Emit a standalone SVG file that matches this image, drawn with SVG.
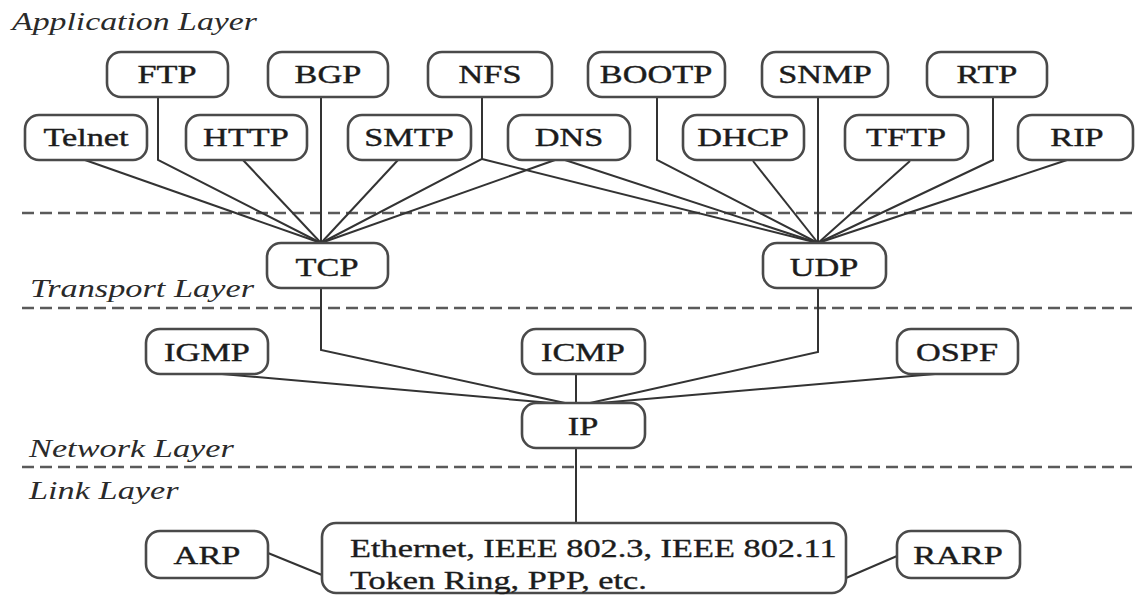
<svg xmlns="http://www.w3.org/2000/svg" width="1135" height="595" viewBox="0 0 1135 595" font-family="Liberation Serif, serif">
  <style>
    .box { fill: #ffffff; stroke: #4a4a4a; stroke-width: 2.6; }
    .lbl { font-size: 26px; fill: #1c1c1c; stroke: #1c1c1c; stroke-width: 0.4; text-anchor: middle; }
    .txt { font-size: 26px; fill: #1c1c1c; stroke: #1c1c1c; stroke-width: 0.35; }
    .layer { font-style: italic; font-size: 26px; fill: #2a2a2a; }
    .sep { stroke: #5a5a5a; stroke-width: 2.6; stroke-dasharray: 12 6; fill: none; }
    .wire { stroke: #333333; stroke-width: 2; fill: none; }
  </style>
  <rect width="1135" height="595" fill="#ffffff"/>

  <!-- layer separators and titles (type is set 1.32x wide) -->
  <g id="layers">
    <line class="sep" x1="22" y1="213" x2="1135" y2="213"/>
    <line class="sep" x1="22" y1="308" x2="1135" y2="308"/>
    <line class="sep" x1="22" y1="467" x2="1135" y2="467"/>
    <text class="layer" transform="translate(12 30) scale(1.3 1)">Application Layer</text>
    <text class="layer" transform="translate(30 297) scale(1.32 1)">Transport Layer</text>
    <text class="layer" transform="translate(29 457) scale(1.32 1)">Network Layer</text>
    <text class="layer" transform="translate(29 499) scale(1.32 1)">Link Layer</text>
  </g>

  <!-- connectors -->
  <g id="connectors">
    <polyline class="wire" points="85,160 321,243"/>
    <polyline class="wire" points="158,97 158,160 321,243"/>
    <polyline class="wire" points="243,160 321,243"/>
    <polyline class="wire" points="321,97 321,243"/>
    <polyline class="wire" points="398,160 321,243"/>
    <polyline class="wire" points="482,97 482,159 321,243"/>
    <polyline class="wire" points="482,159 818,243"/>
    <polyline class="wire" points="555,160 321,243"/>
    <polyline class="wire" points="565,160 818,243"/>
    <polyline class="wire" points="657,97 657,160 818,243"/>
    <polyline class="wire" points="753,161 818,243"/>
    <polyline class="wire" points="818,97 818,243"/>
    <polyline class="wire" points="910,161 818,243"/>
    <polyline class="wire" points="993,97 993,160 818,243"/>
    <polyline class="wire" points="1067,160 818,243"/>
    <polyline class="wire" points="321,288 321,350 565,403"/>
    <polyline class="wire" points="818,288 818,352 590,403"/>
    <polyline class="wire" points="222,374 552,403"/>
    <polyline class="wire" points="576,374 576,403"/>
    <polyline class="wire" points="935,374 600,403"/>
    <polyline class="wire" points="576,448 576,523"/>
    <polyline class="wire" points="268,553 322,575"/>
    <polyline class="wire" points="846,578 897,556"/>
  </g>

  <!-- application layer -->
  <g id="ftp"><rect class="box" x="107" y="52" width="121" height="45" rx="14"/><text class="lbl" transform="translate(167 83) scale(1.32 1)">FTP</text></g>
  <g id="bgp"><rect class="box" x="268" y="52" width="120" height="45" rx="14"/><text class="lbl" transform="translate(328 83) scale(1.32 1)">BGP</text></g>
  <g id="nfs"><rect class="box" x="428" y="52" width="124" height="45" rx="14"/><text class="lbl" transform="translate(490 83) scale(1.32 1)">NFS</text></g>
  <g id="bootp"><rect class="box" x="588" y="52" width="137" height="45" rx="14"/><text class="lbl" transform="translate(656 83) scale(1.32 1)">BOOTP</text></g>
  <g id="snmp"><rect class="box" x="762" y="52" width="126" height="45" rx="14"/><text class="lbl" transform="translate(825 83) scale(1.32 1)">SNMP</text></g>
  <g id="rtp"><rect class="box" x="927" y="52" width="120" height="45" rx="14"/><text class="lbl" transform="translate(987 83) scale(1.32 1)">RTP</text></g>

  <g id="telnet"><rect class="box" x="25" y="115" width="122" height="45" rx="14"/><text class="lbl" transform="translate(86 146) scale(1.32 1)">Telnet</text></g>
  <g id="http"><rect class="box" x="186" y="115" width="121" height="45" rx="14"/><text class="lbl" transform="translate(246 146) scale(1.32 1)">HTTP</text></g>
  <g id="smtp"><rect class="box" x="348" y="115" width="123" height="45" rx="14"/><text class="lbl" transform="translate(409 146) scale(1.32 1)">SMTP</text></g>
  <g id="dns"><rect class="box" x="508" y="115" width="122" height="45" rx="14"/><text class="lbl" transform="translate(569 146) scale(1.32 1)">DNS</text></g>
  <g id="dhcp"><rect class="box" x="683" y="115" width="121" height="45" rx="14"/><text class="lbl" transform="translate(743 146) scale(1.32 1)">DHCP</text></g>
  <g id="tftp"><rect class="box" x="845" y="115" width="123" height="45" rx="14"/><text class="lbl" transform="translate(906 146) scale(1.32 1)">TFTP</text></g>
  <g id="rip"><rect class="box" x="1018" y="115" width="115" height="45" rx="14"/><text class="lbl" transform="translate(1077 146) scale(1.32 1)">RIP</text></g>

  <!-- transport layer -->
  <g id="tcp"><rect class="box" x="267" y="243" width="121" height="45" rx="14"/><text class="lbl" transform="translate(327 276) scale(1.32 1)">TCP</text></g>
  <g id="udp"><rect class="box" x="763" y="243" width="123" height="45" rx="14"/><text class="lbl" transform="translate(824 276) scale(1.32 1)">UDP</text></g>

  <!-- network layer -->
  <g id="igmp"><rect class="box" x="146" y="329" width="122" height="45" rx="14"/><text class="lbl" transform="translate(207 361) scale(1.32 1)">IGMP</text></g>
  <g id="icmp"><rect class="box" x="522" y="329" width="123" height="45" rx="14"/><text class="lbl" transform="translate(583 361) scale(1.32 1)">ICMP</text></g>
  <g id="ospf"><rect class="box" x="897" y="329" width="121" height="45" rx="14"/><text class="lbl" transform="translate(957 361) scale(1.32 1)">OSPF</text></g>
  <g id="ip"><rect class="box" x="522" y="403" width="123" height="45" rx="14"/><text class="lbl" transform="translate(583 435) scale(1.32 1)">IP</text></g>

  <!-- link layer -->
  <g id="arp"><rect class="box" x="146" y="531" width="122" height="47" rx="14"/><text class="lbl" transform="translate(207 564) scale(1.32 1)">ARP</text></g>
  <g id="link"><rect class="box" x="322" y="523" width="524" height="70" rx="14"/>
    <text class="txt" transform="translate(350 557) scale(1.32 1)">Ethernet, IEEE 802.3, IEEE 802.11</text>
    <text class="txt" transform="translate(350 589) scale(1.32 1)">Token Ring, PPP, etc.</text>
  </g>
  <g id="rarp"><rect class="box" x="897" y="531" width="123" height="47" rx="14"/><text class="lbl" transform="translate(958 564) scale(1.32 1)">RARP</text></g>
</svg>
